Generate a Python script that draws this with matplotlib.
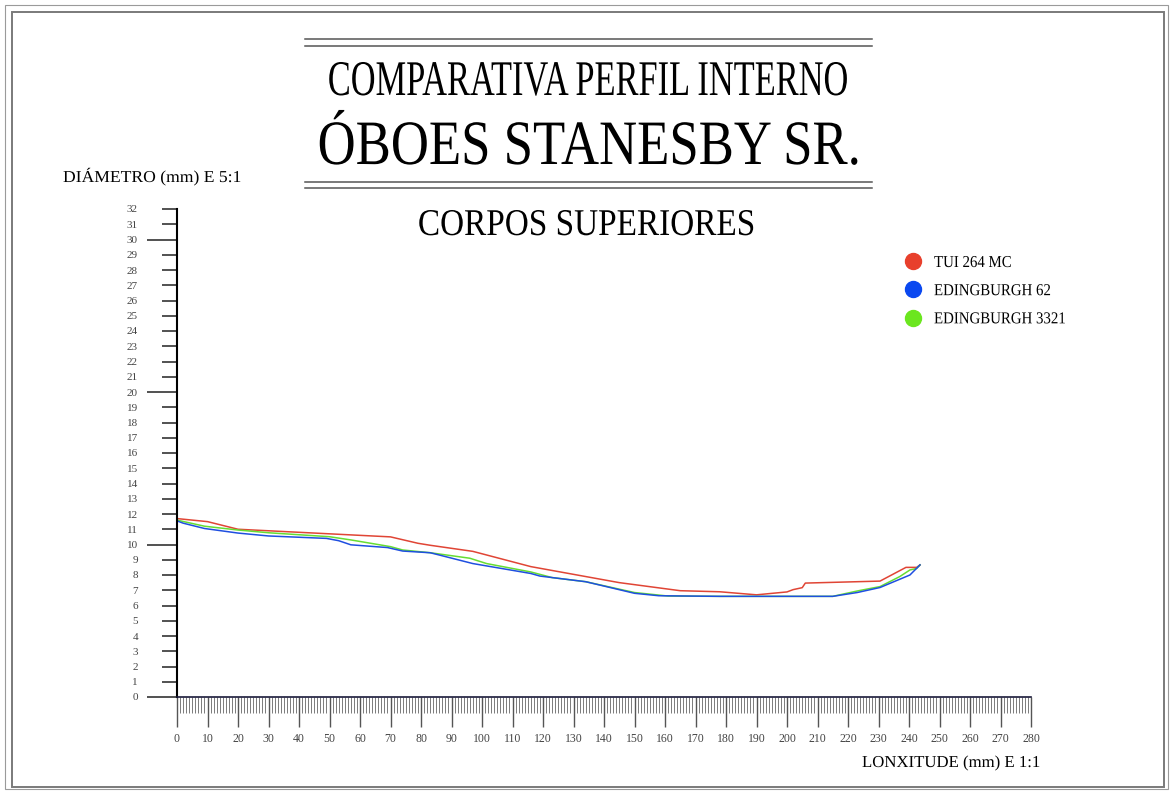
import matplotlib
matplotlib.use("Agg")
import matplotlib.pyplot as plt
from matplotlib import patheffects
from matplotlib.transforms import Affine2D
from matplotlib.lines import Line2D
from matplotlib.patches import Rectangle

# --- data (mm) ---
tui_x = [0, 10, 20, 45, 70, 79, 83, 97, 116, 145, 165, 178, 190, 200, 202, 205, 206, 230.5, 239, 242.5, 243.6]
tui_y = [11.7, 11.5, 11.0, 10.75, 10.5, 10.08, 9.95, 9.55, 8.55, 7.5, 6.97, 6.9, 6.7, 6.89, 7.04, 7.17, 7.47, 7.6, 8.5, 8.5, 8.66]

ed62_x = [0, 2, 9, 20, 30, 49, 53, 57, 69, 74, 83, 86, 97, 116, 119, 134, 150, 158, 178, 215, 223, 230.5, 240.3, 243.6]
ed62_y = [11.55, 11.4, 11.05, 10.75, 10.56, 10.4, 10.25, 9.98, 9.8, 9.57, 9.46, 9.31, 8.75, 8.1, 7.93, 7.56, 6.8, 6.64, 6.6, 6.6, 6.85, 7.18, 8.0, 8.66]

ed3321_x = [0, 9, 20, 30, 50, 57, 70, 74, 83, 96, 101.5, 116, 123, 134, 150, 161, 178, 215, 223, 230.5, 237, 240.3, 242.5, 243.6]
ed3321_y = [11.6, 11.2, 10.95, 10.77, 10.51, 10.3, 9.86, 9.64, 9.46, 9.1, 8.75, 8.2, 7.83, 7.56, 6.85, 6.62, 6.6, 6.6, 6.95, 7.24, 7.9, 8.33, 8.43, 8.66]

labels = ["TUI 264 MC", "EDINGBURGH 62", "EDINGBURGH 3321"]
line_colors = ["#e04535", "#1f4fe0", "#66dd33"]
dot_colors = ["#e8402c", "#0a48f0", "#6be61f"]

W, H = 1171, 791


def fx(px):
    return px / W


def fy(py):
    return 1 - py / H


class Squeeze(patheffects.AbstractPathEffect):
    # narrow the glyphs horizontally (reference uses a condensed font)
    def __init__(self, sx=1.0, anchor="center"):
        super().__init__()
        self.sx = sx
        self.anchor = anchor

    def draw_path(self, renderer, gc, tpath, affine, rgbFace=None):
        xs = tpath.vertices[:, 0]
        x0 = (xs.min() + xs.max()) / 2 if self.anchor == "center" else 0
        t = Affine2D().translate(-x0, 0).scale(self.sx, 1).translate(x0, 0) + affine
        renderer.draw_path(gc, tpath, t, rgbFace)


fig = plt.figure(figsize=(W / 100, H / 100), dpi=100)
font = "Liberation Serif"

# sheet borders
fig.add_artist(Rectangle((fx(5), fy(789)), fx(1168) - fx(5), fy(5) - fy(789),
                         transform=fig.transFigure, fill=False, ec="#9a9a9a", lw=0.8))
fig.add_artist(Rectangle((fx(12), fy(787)), fx(1164) - fx(12), fy(12) - fy(787),
                         transform=fig.transFigure, fill=False, ec="#7a7a7a", lw=1.4))

# title double rules
for py in [39, 46, 182, 188]:
    fig.add_artist(Line2D([fx(305), fx(872)], [fy(py), fy(py)],
                          transform=fig.transFigure, color="#555555", lw=1.1))

squeezed = []
t1 = fig.text(fx(588), fy(95), "COMPARATIVA PERFIL INTERNO", ha="center", va="baseline",
              family=font, fontsize=35.9)
squeezed.append((t1, 520, "center"))
t2 = fig.text(fx(590), fy(164), "ÓBOES STANESBY SR.", ha="center", va="baseline",
              family=font, fontsize=45.5)
squeezed.append((t2, 544, "center"))
t3 = fig.text(fx(586.5), fy(235), "CORPOS SUPERIORES", ha="center", va="baseline",
              family=font, fontsize=27.2)
squeezed.append((t3, 337, "center"))
t4 = fig.text(fx(63), fy(182), "DIÁMETRO (mm) E 5:1", ha="left", va="baseline",
              family=font, fontsize=12)
squeezed.append((t4, 178, "left"))
t5 = fig.text(fx(862), fy(767), "LONXITUDE (mm) E 1:1", ha="left", va="baseline",
              family=font, fontsize=12)
squeezed.append((t5, 178, "left"))

ax = fig.add_axes([fx(177), fy(697), fx(1031) - fx(177), fy(209) - fy(697)])
ax.plot(tui_x, tui_y, color=line_colors[0], lw=1.1)
ax.plot(ed3321_x, ed3321_y, color=line_colors[2], lw=1.1)
ax.plot(ed62_x, ed62_y, color=line_colors[1], lw=1.1)

ax.set_xlim(0, 280)
ax.set_ylim(0, 32)
for s in ["top", "right"]:
    ax.spines[s].set_visible(False)
ax.spines["left"].set_linewidth(1.5)
ax.spines["left"].set_color("black")
ax.spines["bottom"].set_linewidth(1.2)
ax.spines["bottom"].set_color("#1a1a3a")

# y axis: long ticks every 10, short ticks every 1, all labelled
ymaj = [0, 10, 20, 30]
ymin = [v for v in range(33) if v not in ymaj]
ax.set_yticks(ymaj)
ax.set_yticklabels([str(v) for v in ymaj])
ax.set_yticks(ymin, minor=True)
ax.set_yticklabels([str(v) for v in ymin], minor=True)
ax.tick_params(axis="y", which="major", length=21.6, width=1.1, color="#222222", pad=6.5,
               labelsize=8, labelcolor="#444444")
ax.tick_params(axis="y", which="minor", length=10.8, width=1.1, color="#222222", pad=17.3,
               labelsize=8, labelcolor="#444444")

# x axis: ruler, every 1 mm, labelled every 10
ax.set_xticks(range(0, 281, 10))
ax.set_xticks(range(0, 281, 1), minor=True)
ax.tick_params(axis="x", which="major", length=21.6, width=1.0, color="#555555", pad=4.3,
               labelsize=8.5, labelcolor="#444444")
ax.tick_params(axis="x", which="minor", length=11.5, width=0.6, color="#666666")
for lab in ax.get_xticklabels() + ax.get_yticklabels() + ax.get_yticklabels(minor=True):
    lab.set_family(font)

# legend with dot markers
handles = [Line2D([], [], ls="none", marker="o", markersize=11.5, color=c) for c in dot_colors]
leg = fig.legend(handles, labels, loc="upper left", bbox_to_anchor=(fx(904.7), fy(255)),
                 frameon=False, borderpad=0, borderaxespad=0, handlelength=1.0,
                 handletextpad=0.76, labelspacing=0.73, prop={"family": font, "size": 12})

fig.canvas.draw()
r = fig.canvas.get_renderer()
for t, target, anchor in squeezed:
    w = t.get_window_extent(r).width
    t.set_path_effects([Squeeze(target / w, anchor)])
w = leg.get_texts()[2].get_window_extent(r).width
for t in leg.get_texts():
    t.set_path_effects([Squeeze(131 / w, "left")])

fig.savefig("out.png", dpi=100)
